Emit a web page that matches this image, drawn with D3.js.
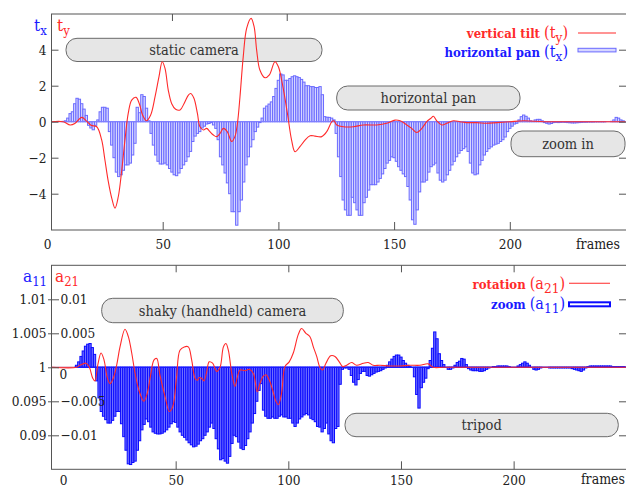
<!DOCTYPE html>
<html>
<head>
<meta charset="utf-8">
<script src="https://cdn.jsdelivr.net/npm/d3@7"></script>
<style>
  html, body { margin: 0; padding: 0; background: #fff; }
  svg { display: block; }
</style>
</head>
<body>
<div id="chart"></div>
<script>
// ---- data -----------------------------------------------------------------

// frame index for the bar series (one bar per frame)
const frames = d3.range(0, 250);

// horizontal pan t_x, one value per frame
const txValues = [
  0, 0, 0, 0, 0, 0, 0, 0.02, 0.05, 0.2,
  0.45, 0.55, 1.0, 1.3, 1.25, 1.0, 0.7, 0.35, -0.2, -0.35,
  -0.45, -0.2, 0.1, 0.55, 0.8, 0.8, 0.75, -0.55, -1.3, -2.0,
  -2.8, -3.05, -2.95, -2.7, -2.4, -2.4, -2.3, -1.85, -1.2, 0.8,
  0.5, 1.5, 1.4, 0.75, 0.05, -0.65, -1.3, -1.85, -2.2, -2.35,
  -2.35, -2.3, -2.4, -2.6, -2.8, -2.95, -3.0, -2.85, -2.6, -2.4,
  -2.2, -1.95, -1.65, -1.1, -0.8, -0.65, -0.55, -0.35, -0.25, -0.13,
  -0.1, -0.05, -0.18, -0.37, -1.0, -1.95, -2.4, -2.85, -3.4, -4.0,
  -5.0, -5.0, -5.75, -5.0, -4.35, -3.35, -2.4, -1.95, -1.4, -1.0,
  -0.55, -0.3, -0.05, 0.2, 0.75, 0.87, 0.98, 1.1, 1.4, 1.85,
  2.3, 2.65, 2.6, 2.3, 2.3, 2.4, 2.5, 2.55, 2.5, 2.45,
  2.35, 2.2, 2.0, 2.0, 1.95, 1.95, 1.9, 1.9, 1.95, 1.5,
  0.28, 0.25, 0.24, 0.2, 0.1, -0.65, -1.95, -3.05, -4.35, -4.9,
  -5.2, -5.2, -4.2, -4.5, -4.9, -5.2, -5.2, -4.5, -4.2, -3.8,
  -3.5, -3.5, -3.5, -3.35, -3.15, -2.9, -2.6, -2.3, -2.15, -1.95,
  -2.0, -2.2, -2.5, -2.7, -2.9, -3.05, -3.6, -4.35, -5.45, -5.7,
  -4.9, -3.9, -3.35, -3.35, -3.25, -2.8, -2.5, -2.4, -2.3, -2.85,
  -3.25, -3.35, -3.25, -2.95, -2.7, -2.4, -2.2, -1.95, -1.75, -1.6,
  -1.5, -1.4, -1.65, -2.3, -2.85, -2.95, -2.9, -2.4, -2.15, -1.85,
  -1.65, -1.5, -1.4, -1.3, -1.25, -1.2, -1.1, -1.0, -0.85, -0.55,
  -0.37, -0.25, -0.13, -0.09, 0.1, 0.28, 0.37, 0.3, 0.2, 0.05,
  0.02, 0.1, 0.13, 0.13, 0.05, -0.05, -0.09, -0.13, -0.1, -0.05,
  -0.04, -0.05, -0.04, -0.03, -0.04, -0.05, -0.06, -0.07, -0.07, -0.06,
  -0.05, -0.04, -0.03, -0.03, -0.02, -0.02, -0.02, -0.01, -0.01, -0.01,
  -0.01, -0.01, 0, 0, 0.02, 0.1, 0.24, 0.2, 0.1, 0.05
];

// vertical tilt t_y, read as a curve
const tyFrames = [
  2, 7, 10, 12, 15, 17, 19, 21.5, 23.6, 25, 26.5, 28, 29.4, 30.8, 32.3, 33.7,
  35.1, 36.6, 38.5, 39.9, 41.3, 43, 44.8, 46.7, 48.4, 49.8, 51, 52.4, 53.9,
  55.6, 57.5, 59.2, 61.1, 62.1, 63.5, 65, 66.1, 67.6, 69, 70.4, 71.9, 73.3,
  74.8, 76.2, 77.9, 79.8, 81.2, 82.3, 83.4, 84.8, 86.3, 88.2, 89.5, 90.6, 92,
  94.2, 96.1, 98.5, 100, 101.8, 103.9, 105.7, 107.2, 109.3, 111.5, 113.7,
  115.8, 118.7, 120.9, 123.1, 124, 125.2, 128.1, 132.4, 136.7, 142.5, 146.8,
  150.4, 152.6, 155.5, 157.6, 159.8, 162, 164.1, 165.8, 167, 168.4, 170.6,
  172.8, 175.6, 178.5, 181.4, 185.7, 190, 194.4, 200.1, 205.9, 215, 230, 250
];
const tyValues = [
  0, 0, -0.18, -0.1, 0.24, 0.05, -0.2, -0.28, -1.0, -2.1, -3.33, -4.26, -4.8,
  -4.17, -2.7, -1.0, 0.46, 1.2, 1.35, 1.0, 0.37, 0.05, 0.37, 1.39, 2.5, 3.33,
  2.96, 1.76, 1.0, 0.69, 0.65, 1.0, 1.48, 1.57, 1.3, 0.46, -0.28, -0.46,
  -0.37, -0.55, -0.74, -0.83, -0.65, -0.37, -0.55, -1.1, -0.83, -0.09, 1.39,
  3.6, 5.2, 5.74, 5.28, 3.98, 2.87, 2.44, 2.6, 3.33, 3.05, 2.04, 0.46, -1.02,
  -1.67, -1.39, -1.02, -0.78, -0.8, -0.83, -0.55, 0, 0.05, -0.18, -0.28,
  -0.28, -0.18, -0.18, -0.09, 0.09, 0.05, -0.18, -0.37, -0.6, -0.37, 0, 0.18,
  0.3, 0.05, -0.18, -0.09, 0.05, 0, -0.05, -0.05, -0.09, -0.05, 0, 0.05, 0,
  0, 0
];

// zoom a_11, one value per frame
const a11Values = [
  1, 1, 1, 1, 1, 1, 1.0003, 1.0008, 1.0016, 1.0024,
  1.0031, 1.0034, 1.0035, 1.0029, 1.0019, 0.998, 0.9955, 0.9935, 0.9928, 0.9923,
  0.9918, 0.9918, 0.9922, 0.9928, 0.9935, 0.9935, 0.9917, 0.9898, 0.9878, 0.9858,
  0.9857, 0.986, 0.9862, 0.9878, 0.9892, 0.9908, 0.9916, 0.9924, 0.992, 0.9912,
  0.9905, 0.9903, 0.9902, 0.9902, 0.9903, 0.9905, 0.9908, 0.9912, 0.9917, 0.992,
  0.9919, 0.9912, 0.9905, 0.99, 0.9897, 0.9893, 0.9889, 0.9886, 0.9883, 0.9884,
  0.9887, 0.9892, 0.9895, 0.99, 0.9905, 0.9912, 0.9918, 0.991, 0.9895, 0.988,
  0.9864, 0.9866, 0.9862, 0.9859, 0.9869, 0.9888, 0.99, 0.9898, 0.989, 0.9881,
  0.9879, 0.9885, 0.9895, 0.9905, 0.9918, 0.9932, 0.995, 0.9966, 0.9976, 0.9937,
  0.9928, 0.9925, 0.9925, 0.9927, 0.9925, 0.9925, 0.9928, 0.993, 0.9927, 0.9927,
  0.9925, 0.9925, 0.9918, 0.9913, 0.9918, 0.9924, 0.9927, 0.993, 0.9932, 0.993,
  0.9925, 0.9923, 0.992, 0.9913, 0.9912, 0.9905, 0.991, 0.9918, 0.9902, 0.9892,
  0.9889, 0.991, 0.9913, 0.9975, 0.9997, 0.9999, 0.9999, 0.9997, 0.9988, 0.9978,
  0.9974, 0.9982, 0.9991, 0.9994, 0.9994, 0.9988, 0.9987, 0.9989, 0.9991, 0.9993,
  0.9994, 0.9995, 0.9997, 0.9999, 1.0003, 1.0008, 1.0012, 1.0016, 1.0018, 1.0018,
  1.0015, 1.001, 1.0006, 1.0003, 1.0001, 1, 0.9986, 0.996, 0.994, 0.997,
  0.9978, 0.9984, 0.9998, 1.001, 1.0028, 1.0052, 1.0042, 1.002, 1.001, 1.0004,
  1, 0.9997, 0.9997, 0.9999, 1.0003, 1.0007, 1.0009, 1.0013, 1.0012, 1.0004,
  0.9998, 0.9996, 0.9995, 0.9995, 0.9995, 0.9994, 0.9994, 0.9995, 0.9997, 0.9999,
  1, 1.0001, 1.0001, 1.0002, 1.0002, 1.0002, 1.0002, 1.0002, 1.0001, 1,
  1, 1, 1.0002, 1.0004, 1.0006, 1.0008, 1.0006, 1.0003, 1, 0.9997,
  0.9996, 0.9997, 0.9999, 1, 1, 1, 0.9999, 0.9999, 0.9999, 0.9999,
  0.9999, 0.9999, 0.9999, 0.9999, 0.9999, 0.9999, 0.9998, 0.9997, 0.9996, 0.9995,
  0.9994, 0.9996, 0.9999, 1.0001, 1.0002, 1.0002, 1.0002, 1.0002, 1.0002, 1.0002,
  1.0002, 1.0002, 1.0002, 1.0002, 1.0001, 1.0001, 1.0001, 1.0001, 1.0001, 1.0001
];

// rotation a_21, read as a curve
const a21Frames = [
  -5, 6, 7.5, 10.2, 11.7, 13.2, 14.2, 15.4, 16.9, 18.2, 19.7, 20.9, 22.3, 23.8,
  25.3, 27.5, 29, 30.5, 32, 33.9, 35.9, 37.4, 38.9, 40.4, 41.6, 43, 45.3, 47.2,
  48.7, 50.4, 51.9, 53.8, 55.6, 57.1, 58.6, 59.6, 60.5, 61.5, 62.6, 63.8, 64.9,
  66.4, 68.2, 69.7, 71.2, 72.3, 73.4, 74.9, 76.3, 77.4, 78.6, 80.8, 82.7, 84.5,
  86.2, 87.4, 88.9, 90.1, 91.6, 93, 94.5, 95.6, 97, 98.5, 100.4, 102.2, 104.4,
  105.9, 107.8, 109.6, 111.1, 112.6, 114, 115.2, 116.7, 118.8, 120.7, 122.6,
  124.1, 125.9, 128.1, 130.3, 133.3, 135.5, 137.7, 140.7, 145.1, 149.5, 154,
  158.4, 162.1, 164.3, 168.8, 180, 200, 220, 250
];
const a21Values = [
  0, 0, 0.0003, 0.0006, 0, -0.0016, -0.002, 0.0003, 0.0021, 0.0011, -0.0016,
  -0.0024, -0.0016, 0.0003, 0.003, 0.0056, 0.0045, 0.0021, -0.0009, -0.0036,
  -0.005, -0.0038, -0.0011, 0.0011, 0.0013, -0.0011, -0.0043, -0.0065, -0.0058,
  -0.0014, 0.0025, 0.003, 0.003, 0.0011, -0.0016, -0.0019, -0.0015, -0.0016,
  -0.002, -0.0006, 0.0008, 0.0006, -0.0006, 0, 0.003, 0.0035, 0.0025, -0.0009,
  -0.0028, -0.0014, -0.0004, -0.0005, -0.0003, -0.0009, -0.0036, -0.0024,
  -0.0013, -0.0011, -0.0019, -0.0033, -0.005, -0.0055, -0.0038, 0.0001, 0.0008,
  0.0021, 0.0048, 0.0057, 0.005, 0.0045, 0.003, 0.0016, 0, -0.0004, 0.0006,
  0.0017, 0.0016, 0.0008, 0.0001, 0.0003, 0.0007, 0.0003, 0.0006, 0.0007,
  0.0003, 0.0003, 0.0002, 0.0002, 0.0003, 0.0003, 0.0005, 0, 0, 0, 0, 0, 0
];

// tick labels
const xTicks = [0, 50, 100, 150, 200];
const topX2Ticks = [54, 103.6];
const tTicks = [4, 2, 0, -2, -4];
const tTickLabels = ['4', '2', '0', '\u22122', '\u22124'];
const a11Ticks = [1.01, 1.005, 1, 0.995, 0.99];
const a11TickLabels = ['1.01', '1.005', '1', '0.095', '0.09'];
const a21Ticks = [0.01, 0.005, 0, -0.005, -0.01];
const a21TickLabels = ['0.01', '0.005', '0', '\u22120.005', '\u22120.01'];

// ---- drawing --------------------------------------------------------------

const width = 626;
const height = 490;

// Times-like serif is not installed here, condensed DejaVu is the closest width
const serif = '"DejaVu Serif Condensed", "DejaVu Serif", serif';
const redColor = '#ff2a2a';
const blueText = '#1a1aff';
const frameColor = '#555';
const textColor = '#222';

const topPanel = { left: 51.5, right: 628, top: 14, bottom: 230 };
const bottomPanel = { left: 51.5, right: 628, top: 265.3, bottom: 469.3 };

const svg = d3
  .select('#chart')
  .append('svg')
  .attr('width', width)
  .attr('height', height)
  .attr('font-family', serif);

const defs = svg.append('defs');
[['clip-top', topPanel], ['clip-bottom', bottomPanel]].forEach(([id, p]) => {
  defs
    .append('clipPath')
    .attr('id', id)
    .append('rect')
    .attr('x', p.left)
    .attr('y', p.top)
    .attr('width', p.right - p.left)
    .attr('height', p.bottom - p.top);
});

// scales
const xTop = d3.scaleLinear().domain([0, 250]).range([47, 625.5]);
const yTop = d3.scaleLinear().domain([-6, 6]).range([229.7, 13.7]);

const xBottom = d3.scaleLinear().domain([0, 250]).range([63, 626.3]);
const yA21 = d3.scaleLinear().domain([-0.015, 0.015]).range([469.3, 265.3]);
const yA11 = d3.scaleLinear().domain([0.985, 1.015]).range([469.3, 265.3]);

const annotationBoxes = [
  { text: 'static camera', x0: 66, x1: 322, y0: 38.3, y1: 61.5 },
  { text: 'horizontal pan', x0: 336.7, x1: 520, y0: 86, y1: 110 },
  { text: 'zoom in', x0: 511, x1: 625, y0: 131, y1: 156.7 },
  { text: 'shaky (handheld) camera', x0: 101.7, x1: 343.3, y0: 298.3, y1: 322.7 },
  { text: 'tripod', x0: 345, x1: 618.3, y0: 413.3, y1: 436.7 }
];

function drawBars(g, x, y, values, base, stroke, fill, clip) {
  const w = x(1) - x(0);
  g.append('g')
    .attr('clip-path', `url(#${clip})`)
    .selectAll('rect')
    .data(d3.zip(frames, values).filter(([, v]) => v !== base))
    .join('rect')
    .attr('x', ([f]) => x(f) - w / 2)
    .attr('width', w)
    .attr('y', ([, v]) => Math.min(y(v), y(base)))
    .attr('height', ([, v]) => Math.abs(y(v) - y(base)))
    .attr('fill', fill)
    .attr('stroke', stroke)
    .attr('stroke-width', 1);
}

function drawCurve(g, x, y, fx, fy, clip) {
  const line = d3
    .line()
    .x((d) => x(d[0]))
    .y((d) => y(d[1]))
    .curve(d3.curveCatmullRom.alpha(0.5));
  g.append('path')
    .attr('clip-path', `url(#${clip})`)
    .datum(d3.zip(fx, fy))
    .attr('fill', 'none')
    .attr('stroke', redColor)
    .attr('stroke-width', 1.1)
    .attr('d', line);
}

function drawBoxes(g, boxes) {
  const b = g.append('g').selectAll('g').data(boxes).join('g');
  b.append('rect')
    .attr('x', (d) => d.x0)
    .attr('y', (d) => d.y0)
    .attr('width', (d) => d.x1 - d.x0)
    .attr('height', (d) => d.y1 - d.y0)
    .attr('rx', 11)
    .attr('fill', '#e6e6e6')
    .attr('stroke', '#6a6a6a')
    .attr('stroke-width', 1);
  b.append('text')
    .attr('x', (d) => (d.x0 + d.x1) / 2)
    .attr('y', (d) => (d.y0 + d.y1) / 2)
    .attr('dy', '0.36em')
    .attr('text-anchor', 'middle')
    .style('font-size', '14.5px')
    .attr('fill', '#333')
    .text((d) => d.text);
}

function styleAxis(g) {
  g.attr('font-family', serif);
  g.select('.domain').remove();
  g.selectAll('.tick line').attr('stroke', frameColor);
  g.selectAll('.tick text')
    .attr('fill', textColor)
    .style('font-size', '13.5px');
}

function drawFrame(g, p) {
  g.append('rect')
    .attr('x', p.left)
    .attr('y', p.top)
    .attr('width', p.right - p.left)
    .attr('height', p.bottom - p.top)
    .attr('fill', 'none')
    .attr('stroke', frameColor)
    .attr('stroke-width', 1);
}

function subLabel(g, x, y, main, sub, color) {
  const t = g.append('text')
    .attr('x', x).attr('y', y)
    .attr('fill', color)
    .style('font-size', '17px');
  t.append('tspan').text(main);
  t.append('tspan').attr('dy', 4).style('font-size', '13px').text(sub);
  return t;
}

function legendText(g, x, y, bold, main, sub, color) {
  const t = g.append('text')
    .attr('x', x).attr('y', y)
    .attr('text-anchor', 'end')
    .attr('fill', color)
    .style('font-size', '13px');
  t.append('tspan').style('font-weight', 'bold').text(bold + ' ');
  t.append('tspan').style('font-size', '16px').text('(' + main);
  t.append('tspan').attr('dy', 4).style('font-size', '13.5px').text(sub);
  t.append('tspan').attr('dy', -4).style('font-size', '16px').text(')');
}

// ---- top panel: translation ----
const topG = svg.append('g').attr('class', 'top-panel');

drawBars(topG, xTop, yTop, txValues, 0, '#6a6aff', '#d6d6ff', 'clip-top');
topG.append('line')
  .attr('x1', topPanel.left).attr('x2', topPanel.right)
  .attr('y1', yTop(0)).attr('y2', yTop(0))
  .attr('stroke', '#8282ff').attr('stroke-width', 1);
drawBoxes(topG, annotationBoxes.slice(0, 3));
drawCurve(topG, xTop, yTop, tyFrames, tyValues, 'clip-top');
drawFrame(topG, topPanel);

topG.append('g')
  .attr('transform', `translate(0,${topPanel.bottom})`)
  .call(d3.axisBottom(xTop).tickValues(xTicks).tickSizeInner(-8).tickSizeOuter(0).tickPadding(9).tickFormat(d3.format('d')))
  .call(styleAxis)
  .call((g) => g.selectAll('.tick').filter((d) => xTop(d) < topPanel.left).select('line').remove());

topG.append('g')
  .attr('transform', `translate(0,${topPanel.top})`)
  .call(d3.axisTop(xTop).tickValues(topX2Ticks).tickSizeInner(-7).tickSizeOuter(0).tickFormat(''))
  .call(styleAxis);

topG.append('g')
  .attr('transform', `translate(${topPanel.left},0)`)
  .call(d3.axisLeft(yTop).tickValues(tTicks).tickSizeInner(-7).tickSizeOuter(0).tickPadding(5)
    .tickFormat((d, i) => tTickLabels[i]))
  .call(styleAxis);

topG.append('g')
  .attr('transform', `translate(626,0)`)
  .call(d3.axisRight(yTop).tickValues(tTicks).tickSizeInner(-7).tickSizeOuter(0).tickFormat(''))
  .call(styleAxis);

topG.append('text')
  .attr('x', 620).attr('y', 249)
  .attr('text-anchor', 'end')
  .style('font-size', '14px')
  .attr('fill', textColor)
  .text('frames');

subLabel(topG, 34, 31, 't', 'x', blueText);
subLabel(topG, 57, 31, 't', 'y', redColor);

legendText(topG, 568, 38, 'vertical tilt', 't', 'y', redColor);
legendText(topG, 568, 57, 'horizontal pan', 't', 'x', blueText);
topG.append('line')
  .attr('x1', 578).attr('x2', 616).attr('y1', 33).attr('y2', 33)
  .attr('stroke', redColor).attr('stroke-width', 1.1);
topG.append('rect')
  .attr('x', 578).attr('y', 48.3).attr('width', 38).attr('height', 3.6)
  .attr('fill', '#d6d6ff').attr('stroke', '#6a6aff');

// ---- bottom panel: rotation / zoom ----
const bottomG = svg.append('g').attr('class', 'bottom-panel');

drawBars(bottomG, xBottom, yA11, a11Values, 1, '#0a0aff', '#6e6eff', 'clip-bottom');
bottomG.append('line')
  .attr('x1', xBottom(5)).attr('x2', bottomPanel.right)
  .attr('y1', yA11(1)).attr('y2', yA11(1))
  .attr('stroke', '#1a1aff').attr('stroke-width', 1.4);
bottomG.append('line')
  .attr('x1', bottomPanel.left).attr('x2', xBottom(5))
  .attr('y1', yA11(1)).attr('y2', yA11(1))
  .attr('stroke', '#c87aa0').attr('stroke-width', 1.4);
drawBoxes(bottomG, annotationBoxes.slice(3));
drawCurve(bottomG, xBottom, yA21, a21Frames, a21Values, 'clip-bottom');
drawFrame(bottomG, bottomPanel);

bottomG.append('g')
  .attr('transform', `translate(0,${bottomPanel.bottom})`)
  .call(d3.axisBottom(xBottom).tickValues(xTicks).tickSizeInner(-8).tickSizeOuter(0).tickPadding(6).tickFormat(d3.format('d')))
  .call(styleAxis)
  .call((g) => g.selectAll('.tick').filter((d) => d === 0).select('line').remove());

bottomG.append('g')
  .attr('transform', `translate(0,${bottomPanel.top})`)
  .call(d3.axisTop(xBottom).tickValues(xTicks.slice(1)).tickSizeInner(-7).tickSizeOuter(0).tickFormat(''))
  .call(styleAxis);

bottomG.append('g')
  .attr('transform', `translate(${bottomPanel.left},0)`)
  .call(d3.axisLeft(yA11).tickValues(a11Ticks).tickSizeInner(3.5).tickSizeOuter(0).tickPadding(1.5)
    .tickFormat((d, i) => a11TickLabels[i]))
  .call(styleAxis)
  .call((g) => g.selectAll('.tick line').attr('x2', 7.5).attr('x1', -3.5));

bottomG.append('g')
  .attr('transform', `translate(${bottomPanel.left},0)`)
  .call(d3.axisRight(yA21).tickValues(a21Ticks).tickSize(0).tickPadding(9)
    .tickFormat((d, i) => a21TickLabels[i]))
  .call(styleAxis)
  .call((g) => g.selectAll('.tick text').filter((d) => d === 0).attr('dy', '0.85em').attr('x', 8));

bottomG.append('g')
  .attr('transform', `translate(626,0)`)
  .call(d3.axisRight(yA21).tickValues(a21Ticks.filter((d) => d !== 0)).tickSizeInner(-7).tickSizeOuter(0).tickFormat(''))
  .call(styleAxis);

bottomG.append('text')
  .attr('x', 625).attr('y', 484)
  .attr('text-anchor', 'end')
  .style('font-size', '14px')
  .attr('fill', textColor)
  .text('frames');

subLabel(bottomG, 23, 282, 'a', '11', blueText);
subLabel(bottomG, 55, 282, 'a', '21', redColor);

legendText(bottomG, 565, 289, 'rotation', 'a', '21', redColor);
legendText(bottomG, 565, 309, 'zoom', 'a', '11', blueText);
bottomG.append('line')
  .attr('x1', 569).attr('x2', 610).attr('y1', 283.3).attr('y2', 283.3)
  .attr('stroke', redColor).attr('stroke-width', 1.1);
bottomG.append('rect')
  .attr('x', 569).attr('y', 302.3).attr('width', 41).attr('height', 4)
  .attr('fill', '#fff').attr('stroke', '#0a0aff').attr('stroke-width', 2);
</script>
</body>
</html>
